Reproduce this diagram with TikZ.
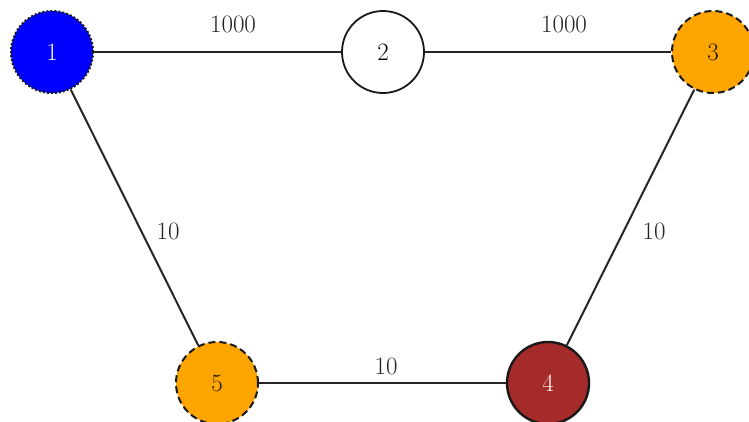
\documentclass[tikz,border=0pt]{standalone}
\begin{document}
\begin{tikzpicture}[x=1pt,y=-1pt,
  vtx/.style={circle,draw=black!90,line width=2pt,minimum size=82pt,inner sep=0pt,font=\fontsize{25}{30}\selectfont},
  dotb/.style={dash pattern=on 2pt off 2pt},
  dashb/.style={dash pattern=on 7pt off 4pt},
  lbl/.style={font=\fontsize{25}{30}\selectfont,inner sep=0pt,text=black!85},
  edge/.style={line width=2pt,draw=black!85}]
\definecolor{myorange}{HTML}{FFA500}
\definecolor{mybrown}{HTML}{A52A2A}
\useasboundingbox[fill=white] (0,0) rectangle (749,421);
\node[vtx,dotb,fill=blue,text=white] (n1) at (52,52) {1};
\node[vtx,fill=white,line width=1.8pt] (n2) at (383,52) {2};
\node[vtx,dashb,fill=myorange,text=black!80!brown] (n3) at (713,52) {3};
\node[vtx,fill=mybrown,text=white!85!pink,line width=2.4pt] (n4) at (548,383) {4};
\node[vtx,dashb,fill=myorange,text=black!80!brown] (n5) at (217,383) {5};
\draw[edge] (n1) -- (n2);
\draw[edge] (n2) -- (n3);
\draw[edge] (n1) -- (n5);
\draw[edge] (n3) -- (n4);
\draw[edge] (n5) -- (n4);
\node[lbl] (l12) at (233,24) {1000};
\node[lbl] (l23) at (564,24) {1000};
\node[lbl] (l15) at (168,231) {10};
\node[lbl] (l34) at (654,231) {10};
\node[lbl] (l54) at (386,366) {10};
\end{tikzpicture}
\end{document}
